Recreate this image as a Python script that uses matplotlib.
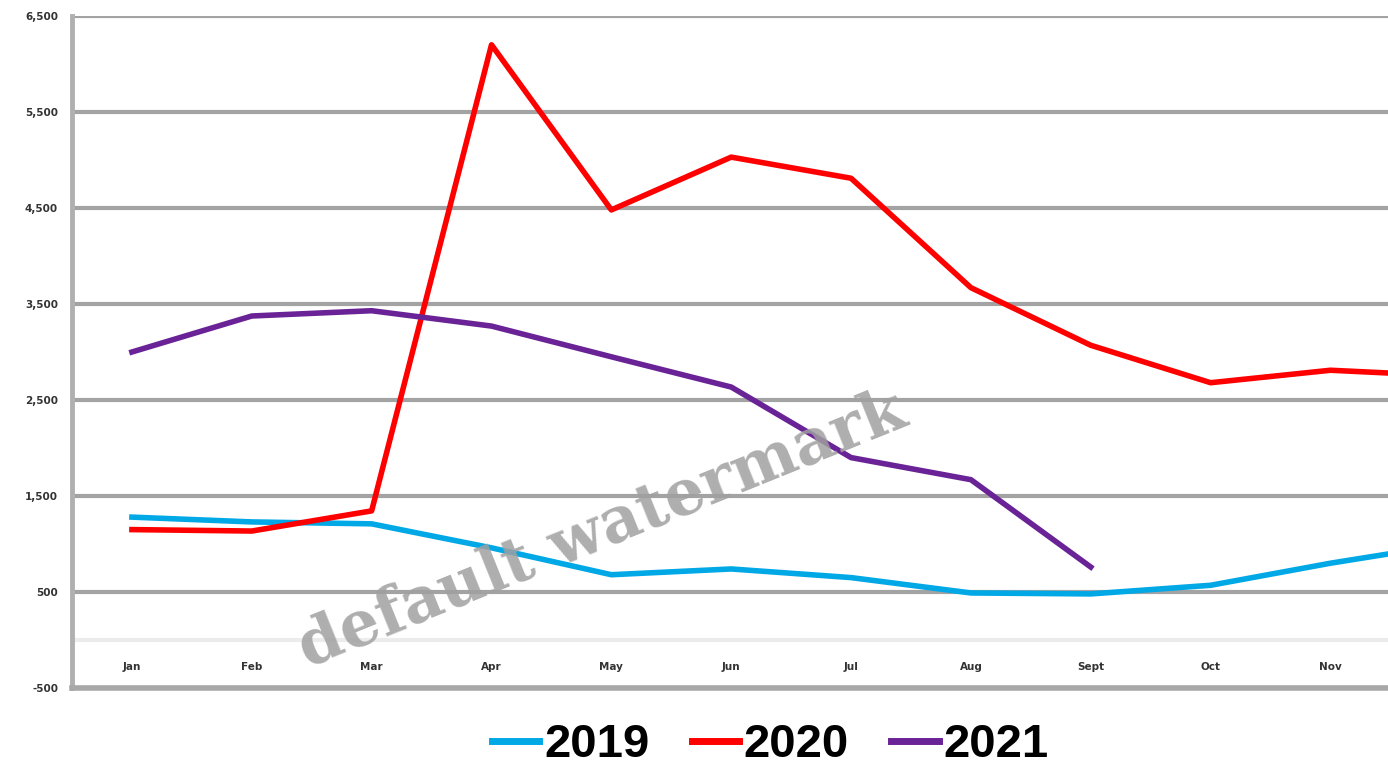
import numpy as np
import matplotlib.pyplot as plt

months = ["Jan", "Feb", "Mar", "Apr", "May", "Jun",
          "Jul", "Aug", "Sept", "Oct", "Nov", "Dec"]
v2019 = [1280, 1230, 1210, 960, 680, 740, 650, 490, 480, 570, 800, 1000]
v2020 = [1150, 1135, 1345, 6200, 4480, 5030, 4810, 3670, 3070, 2680, 2810, 2750]
v2021 = [3000, 3375, 3430, 3270, 2950, 2635, 1900, 1670, 760]
yticks = [-500, 500, 1500, 2500, 3500, 4500, 5500, 6500]

fig = plt.figure(figsize=(13.88, 7.73), dpi=100)
ax = fig.add_axes([72 / 1388, 1 - 688 / 773, (1388 - 72) / 1388, (688 - 16) / 773])

x = np.arange(len(months))
ax.plot(x[:len(v2019)], v2019, color="#00a8e6", lw=4, solid_joinstyle="round",
        label="2019", zorder=3)
ax.plot(x[:len(v2020)], v2020, color="#ff0000", lw=4, solid_joinstyle="round",
        label="2020", zorder=3)
ax.plot(x[:len(v2021)], v2021, color="#6a2396", lw=4, solid_joinstyle="round",
        label="2021", zorder=3)

ax.set_yticks(yticks)
ax.set_yticklabels([f"{v:,}" for v in yticks])
# the right edge cuts off before Dec, so only label the visible months
ax.set_xticks(x[:-1])
ax.set_xticklabels(months[:-1])
ax.set_xlim(-0.5, 10.48)
ax.set_ylim(-500, 6500)
ax.tick_params(axis="y", length=0, pad=10, labelsize=7.5, labelcolor="#333333")
ax.tick_params(axis="x", length=0, pad=-19, labelsize=7.5, labelcolor="#333333")
for lab in ax.get_xticklabels() + ax.get_yticklabels():
    lab.set_fontweight("bold")

ax.grid(axis="y", color="#a3a3a3", lw=3)
ax.set_axisbelow(True)
ax.axhline(0, color="#ececec", lw=3, zorder=1)

for s in ["top", "right"]:
    ax.spines[s].set_visible(False)
ax.spines["left"].set_color("#b0b0b0")
ax.spines["left"].set_linewidth(3.5)
ax.spines["bottom"].set_color("#a8a8a8")
ax.spines["bottom"].set_linewidth(4)

fig.text(0.434, 0.314, "default watermark", fontsize=45, fontweight="bold",
         family="DejaVu Serif", color="#a0a0a0", alpha=0.85,
         rotation=22, ha="center", va="center", zorder=5)

leg = fig.legend(loc="center", bbox_to_anchor=(0.555, 0.036), ncol=3,
                 frameon=False, handlelength=1.0, handletextpad=0.1,
                 columnspacing=0.9, prop={"family": "Liberation Sans",
                                          "weight": "bold", "size": 34})
for line in leg.get_lines():
    line.set_linewidth(5)

fig.savefig("out.png", dpi=100)
